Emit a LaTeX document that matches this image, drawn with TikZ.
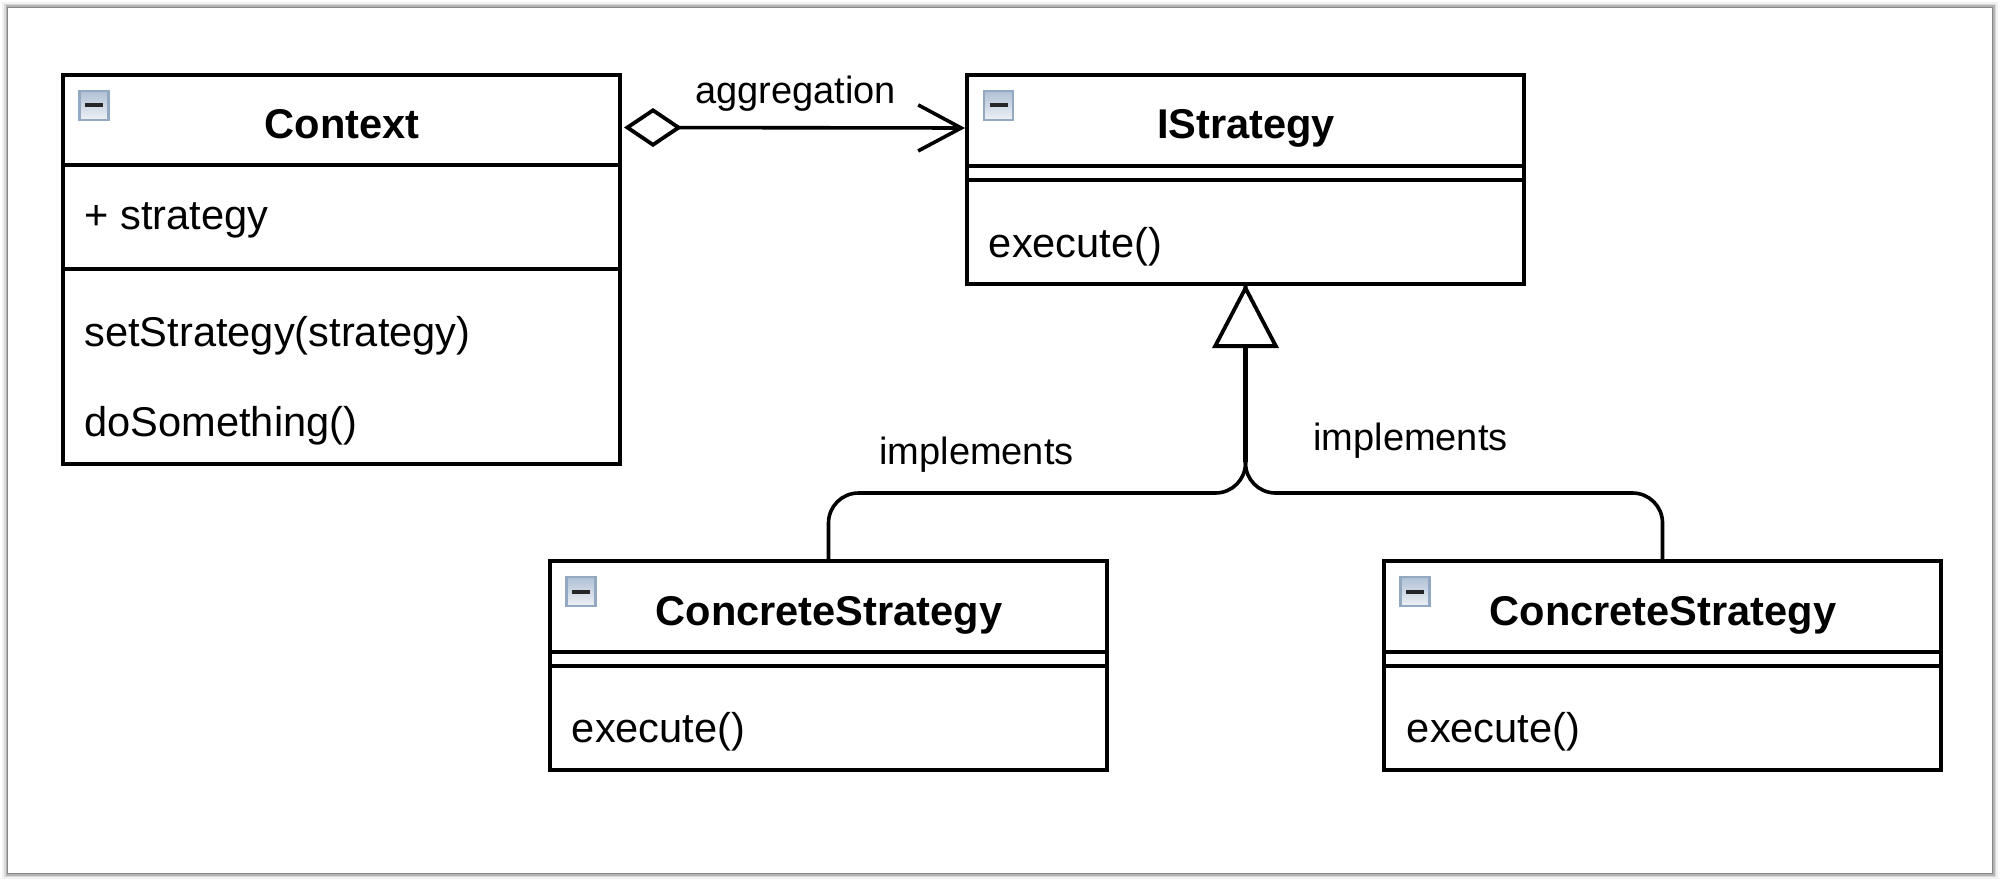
\documentclass[tikz,border=0pt]{standalone}
\usepackage{fontspec}
\setmainfont{Liberation Sans}
\usetikzlibrary{arrows.meta,positioning}
\definecolor{icoEdge}{HTML}{93A9C2}
\definecolor{icoTop}{HTML}{AFC0D5}
\definecolor{icoBot}{HTML}{EEF1F5}
\tikzset{
  x=0.5pt,y=-0.5pt,
  comp/.style={draw=black,line width=1.7pt,fill=white,inner sep=0pt,outer sep=0pt,anchor=north west},
  icon/.style={draw=icoEdge,line width=1.1pt,top color=icoTop,bottom color=icoBot,inner sep=0pt,outer sep=0pt,minimum width=14.5pt,minimum height=14.5pt,anchor=north west},
  icondash/.style={line width=2pt,draw=black!85},
  title/.style={font=\fontsize{20.8}{25}\selectfont\bfseries,anchor=base,inner sep=0pt},
  member/.style={font=\fontsize{20.8}{25}\selectfont,anchor=base west,inner sep=0pt},
  conn/.style={font=\fontsize{19}{23}\selectfont,anchor=base west,inner sep=0pt},
  link/.style={draw=black,line width=1.8pt},
  aggr/.style={link,{Diamond[open,length=29pt,width=19.5pt,line width=1.9pt]}-{Straight Barb[length=21.5pt,width=23pt,line width=1.8pt]}},
  impl/.style={link,rounded corners=15pt},
  implhead/.style={link,line width=2.6pt,-{Triangle[open,fill=white,length=32pt,width=33pt,line width=1.9pt]}},
}
\newcommand{\umlicon}[3]{%
  \node[icon] (#1) at (#2,#3) {};
  \draw[icondash] ([xshift=-4.5pt]#1.center) -- ([xshift=4.5pt]#1.center);
}
\begin{document}
\begin{tikzpicture}
\useasboundingbox (0,0) rectangle (2000,882);
\fill[white] (0,0) rectangle (2000,882);
% page shadow
\foreach \d/\o in {6/0.05,4/0.10,2.5/0.17,1.2/0.26}{
  \fill[black,opacity=\o] (8-\d,8-\d) rectangle (1992+\d,873+\d);
}
\fill[white] (8,8) rectangle (1992,873);

% Context
\node[comp,minimum width=278.5pt,minimum height=45pt] (ctxT) at (63,75) {};
\node[comp,minimum width=278.5pt,minimum height=52pt] (ctxA) at (63,165) {};
\node[comp,minimum width=278.5pt,minimum height=97.5pt] (ctxM) at (63,269) {};
\umlicon{icoCtx}{79.5}{91}
\node[title] (tCtx) at (342,139) {Context};
\node[member] (mStr) at (84,229) {+ strategy};
\node[member] (mSet) at (84,346) {setStrategy(strategy)};
\node[member] (mDo) at (84,436) {doSomething()};

% IStrategy
\node[comp,minimum width=278.5pt,minimum height=45.5pt] (istT) at (967,75) {};
\node[comp,minimum width=278.5pt,minimum height=7pt] (istA) at (967,166) {};
\node[comp,minimum width=278.5pt,minimum height=52pt] (istM) at (967,180) {};
\umlicon{icoIst}{984}{91}
\node[title] (tIst) at (1246,139) {IStrategy};
\node[member] (mEx) at (988.5,257) {execute()};

% ConcreteStrategy left
\node[comp,minimum width=278.5pt,minimum height=45.5pt] (aT) at (550,561) {};
\node[comp,minimum width=278.5pt,minimum height=7pt] (aA) at (550,652) {};
\node[comp,minimum width=278.5pt,minimum height=52pt] (aM) at (550,666) {};
\umlicon{icoA}{566.5}{577}
\node[title] (tA) at (829,625) {ConcreteStrategy};
\node[member] (mA) at (571.5,742) {execute()};

% ConcreteStrategy right
\node[comp,minimum width=278.5pt,minimum height=45.5pt] (bT) at (1384,561) {};
\node[comp,minimum width=278.5pt,minimum height=7pt] (bA) at (1384,652) {};
\node[comp,minimum width=278.5pt,minimum height=52pt] (bM) at (1384,666) {};
\umlicon{icoB}{1400.5}{577}
\node[title] (tB) at (1663,625) {ConcreteStrategy};
\node[member] (mB) at (1406.5,742) {execute()};

% connectors
\draw[aggr] ([xshift=2pt,yshift=-3.75pt]ctxT.east) -- ([xshift=-1pt,yshift=-3.75pt]istT.west);
\coordinate (bend) at (1245.5,493);
\coordinate (stemfoot) at (1245.5,462);
\draw[impl] (aT.north) |- (bend) -- (istM.south);
\draw[impl] (bT.north) |- (bend) -- (istM.south);
\draw[implhead] (stemfoot) -- (istM.south);

% labels
\node[conn] (lAgg) at (695,104) {aggregation};
\node[conn] (lImp1) at (879,464) {implements};
\node[conn] (lImp2) at (1313,450) {implements};
\end{tikzpicture}
\end{document}
